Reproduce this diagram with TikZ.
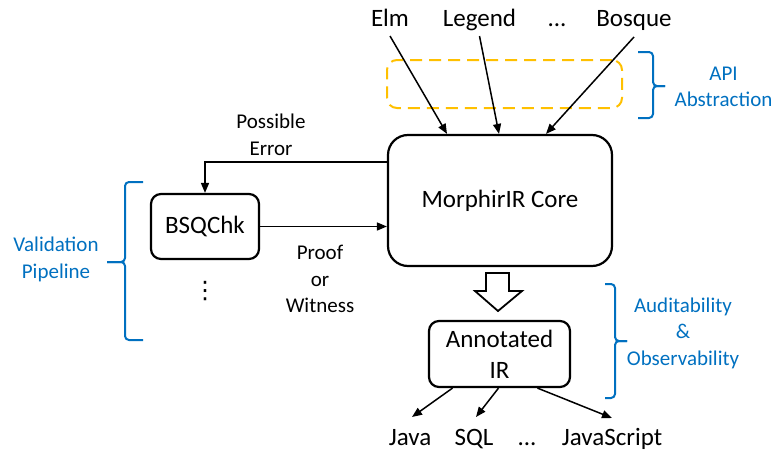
\documentclass[tikz,border=0pt]{standalone}
\usepackage{fontspec}
\setmainfont{Carlito}
\newfontfamily\symfont{DejaVu Sans}
\usepackage{tikz}
\usetikzlibrary{arrows.meta}
\usetikzlibrary{positioning}

\definecolor{noteblue}{HTML}{0070C0}
\definecolor{apiorange}{HTML}{FFC000}

\begin{document}
\begin{tikzpicture}[x=1pt,y=-1pt,
  box/.style={draw,line width=2.2pt,rounded corners=10pt,align=center,inner sep=0pt,font=\fontsize{25}{31}\selectfont},
  word/.style={anchor=base,inner sep=0pt,font=\fontsize{25}{31}\selectfont},
  flow/.style={-{Triangle[length=10pt,width=8pt]},line width=1.5pt},
  edgelabel/.style={align=center,inner sep=0pt,font=\fontsize{21}{26.5}\selectfont},
  note/.style={edgelabel,text=noteblue},
  brace/.style={draw=noteblue,line width=2pt,rounded corners=4pt}]
  \useasboundingbox (0,0) rectangle (774,455);
  %inputs
  \node[word] (elm) at (390,26) {Elm};
  \node[word] (legend) at (479.5,26) {Legend};
  \node[word] (dotsin) at (557,26) {...};
  \node[word] (bosque) at (634,26) {Bosque};
  \node[draw=apiorange,dashed,dash pattern=on 12pt off 7pt,line width=2pt,rounded corners=10pt,minimum width=235pt,minimum height=48pt] (api) at (504.5,84) {};
  %core
  \node[box,rounded corners=20pt,minimum width=224pt,minimum height=131pt] (core) at (500,200.5) {MorphirIR Core};
  \draw[flow] ([yshift=-10pt]elm.base) -- ([xshift=-53pt]core.north);
  \draw[flow] ([yshift=-10pt]legend.base) -- ([xshift=-1pt]core.north);
  \draw[flow] ([yshift=-11pt]bosque.base) -- ([xshift=46pt]core.north);
  %validation
  \node[box,minimum width=108pt,minimum height=65pt] (bsq) at (205,226.5) {BSQChk};
  \node[inner sep=0pt,font=\symfont\fontsize{24}{28}\selectfont] (vdots) at (205,291.5) {⋮};
  \draw[flow] ([yshift=38.5pt]core.west) -| (bsq.north);
  \draw[flow] (bsq.east) -- (bsq.east -| core.west);
  \node[edgelabel] (errlabel) at (271,135) {Possible\\Error};
  \node[edgelabel] (prooflabel) at (320,279) {Proof\\or\\Witness};
  %annotated IR
  \node[box,minimum width=141pt,minimum height=66pt] (ann) at (499.5,354) {Annotated\\IR};
  \draw[line width=1.8pt,line join=miter] (486,273) -- (509,273) -- (509,291) -- (522,291) -- (498,311) -- (475,291) -- (486,291) -- cycle;
  %outputs
  \node[word] (java) at (410,445) {Java};
  \node[word] (sql) at (474,445) {SQL};
  \node[word] (dotsout) at (527,445) {...};
  \node[word] (js) at (612,445) {JavaScript};
  \draw[flow] ([xshift=-47pt]ann.south) -- ([xshift=2pt,yshift=28pt]java.base);
  \draw[flow] ([xshift=-1pt]ann.south) -- ([xshift=2pt,yshift=28pt]sql.base);
  \draw[flow] ([xshift=38pt]ann.south) -- ([yshift=27pt]js.base);
  %braces
  \draw[brace] (143,182) -- (125,182) -- (125,262) -- (107,262);
  \draw[brace] (107,262) -- (125,262) -- (125,340) -- (143,340);
  \node[note] (valnote) at (56,259.5) {Validation\\Pipeline};
  \draw[brace] (638,52) -- (653,52) -- (653,86) -- (665,86);
  \draw[brace] (665,86) -- (653,86) -- (653,118) -- (638,118);
  \node[note] (apinote) at (723.5,87) {API\\Abstraction};
  \draw[brace] (605,284) -- (615,284) -- (615,341) -- (627,341);
  \draw[brace] (627,341) -- (615,341) -- (615,398) -- (605,398);
  \node[note] (auditnote) at (683,333) {Auditability\\\&\\Observability};
\end{tikzpicture}
\end{document}
